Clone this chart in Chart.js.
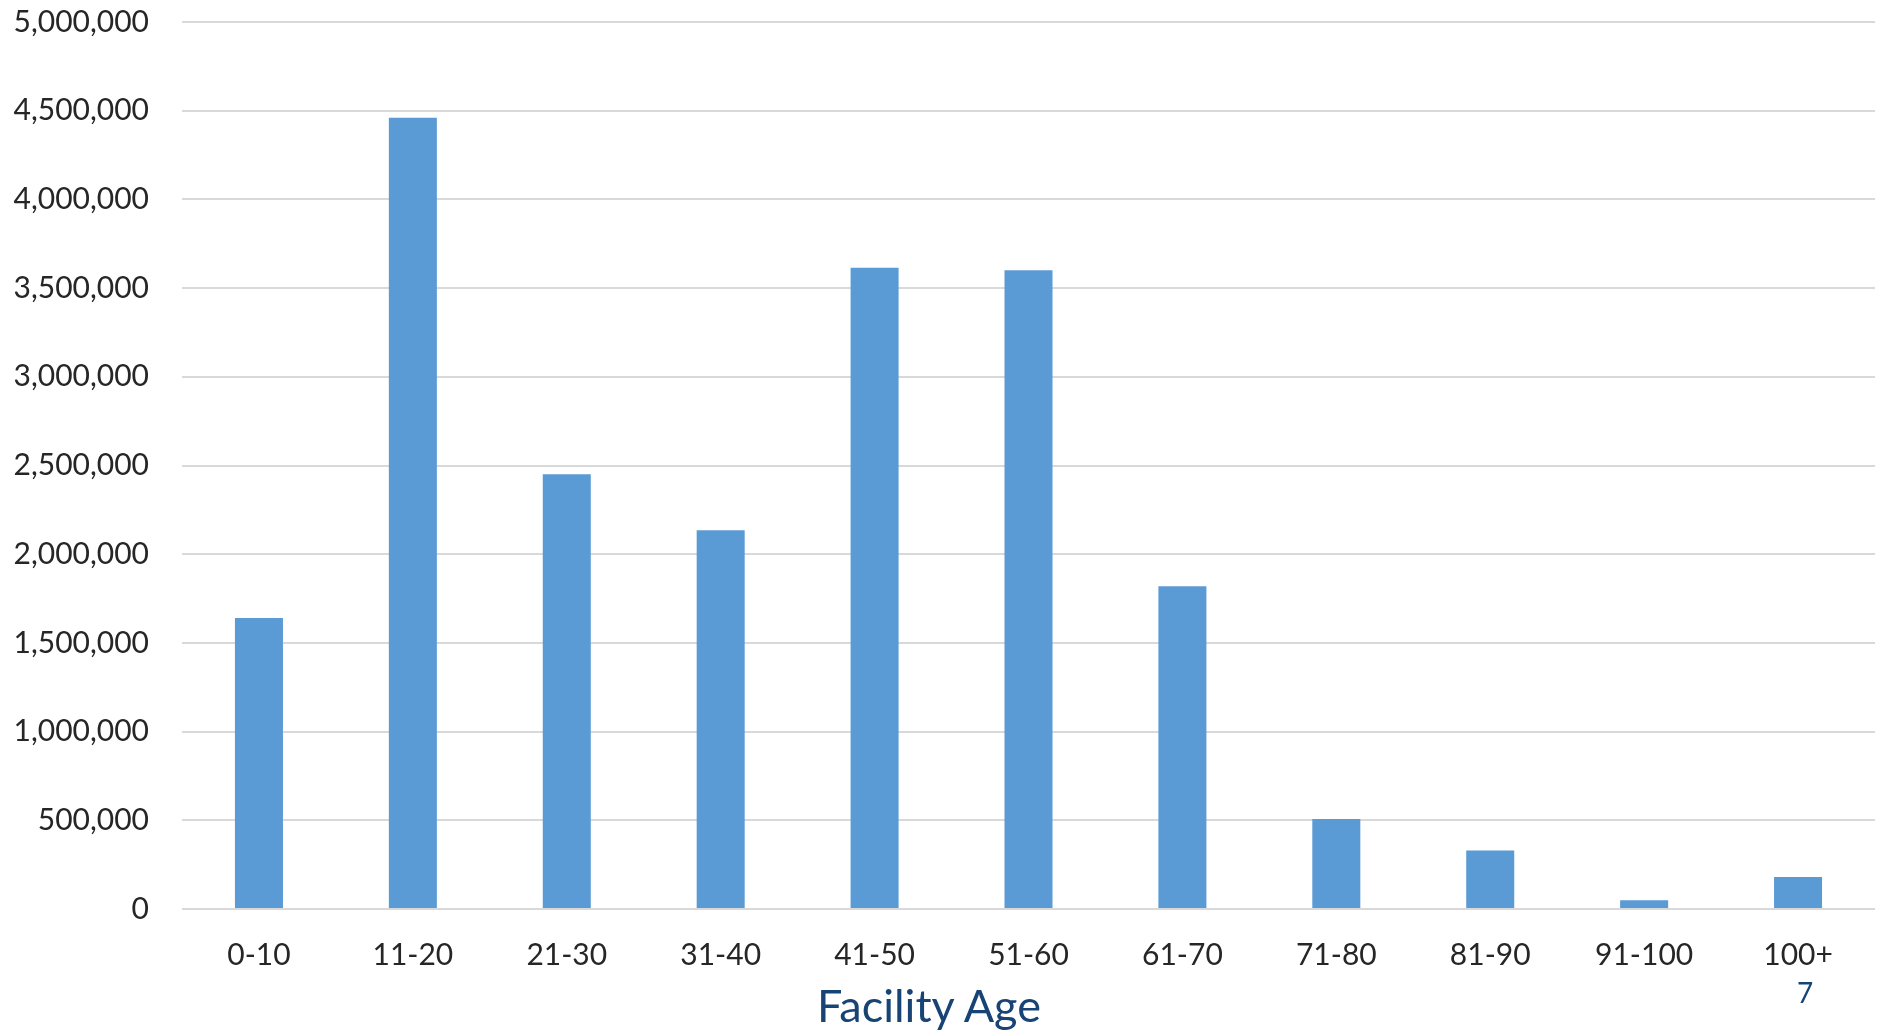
<!DOCTYPE html>
<html>
<head>
<meta charset="utf-8">
<script src="https://cdn.jsdelivr.net/npm/chart.js@4"></script>
<style>
  html, body { margin: 0; padding: 0; background: #ffffff; }
  #wrap { position: relative; width: 1885px; height: 1032px; }
  canvas { display: block; }
  .axis-title {
    position: absolute; left: 929px; top: 1005px;
    transform: translate(-50%, -50%);
    font-family: Lato, "Open Sans", sans-serif; font-size: 45px;
    color: #174474; white-space: nowrap;
  }
  .page-num {
    position: absolute; left: 1805px; top: 992px;
    transform: translate(-50%, -50%);
    font-family: Lato, "Open Sans", sans-serif; font-size: 28px;
    color: #174474;
  }
</style>
</head>
<body>
<div id="wrap">
  <canvas id="chart" width="1885" height="1032"></canvas>
  <div class="axis-title">Facility Age</div>
  <div class="page-num">7</div>
</div>
<script>
// Facility age bands and the totals in each band
const ageBands = ["0-10", "11-20", "21-30", "31-40", "41-50", "51-60", "61-70", "71-80", "81-90", "91-100", "100+"];
const totals = [1640000, 4460000, 2450000, 2135000, 3615000, 3600000, 1820000, 508000, 330000, 50000, 180000];
const yTicks = [0, 500000, 1000000, 1500000, 2000000, 2500000, 3000000, 3500000, 4000000, 4500000, 5000000];

const tickFont = { family: "Lato, 'Open Sans', sans-serif", size: 30 };

new Chart(document.getElementById("chart"), {
  type: "bar",
  data: {
    labels: ageBands,
    datasets: [{
      data: totals,
      backgroundColor: "#5b9bd5",
      borderWidth: 0,
      barPercentage: 0.52,
      categoryPercentage: 0.6
    }]
  },
  options: {
    responsive: false,
    animation: false,
    devicePixelRatio: 1,
    layout: { padding: { top: 22, right: 10, bottom: 0, left: 0 } },
    plugins: { legend: { display: false }, tooltip: { enabled: false } },
    scales: {
      x: {
        grid: { display: false, drawTicks: false },
        border: { display: false },
        ticks: { color: "#262626", font: tickFont, padding: 28, maxRotation: 0 },
        // fixed band below the plot for the category labels
        afterFit: (scale) => { scale.height = 123; }
      },
      y: {
        min: 0,
        max: 5000000,
        afterBuildTicks: (axis) => { axis.ticks = yTicks.map(v => ({ value: v })); },
        grid: { color: "#d9d9d9", lineWidth: 2, drawTicks: false },
        border: { display: false },
        ticks: {
          color: "#262626", font: tickFont, padding: 33,
          callback: (v) => Number(v).toLocaleString("en-US")
        },
        // fixed label column on the left, no extra vertical padding
        afterFit: (scale) => {
          scale.width = 182;
          scale.paddingTop = 0;
          scale.paddingBottom = 0;
        }
      }
    }
  }
});
</script>
</body>
</html>
